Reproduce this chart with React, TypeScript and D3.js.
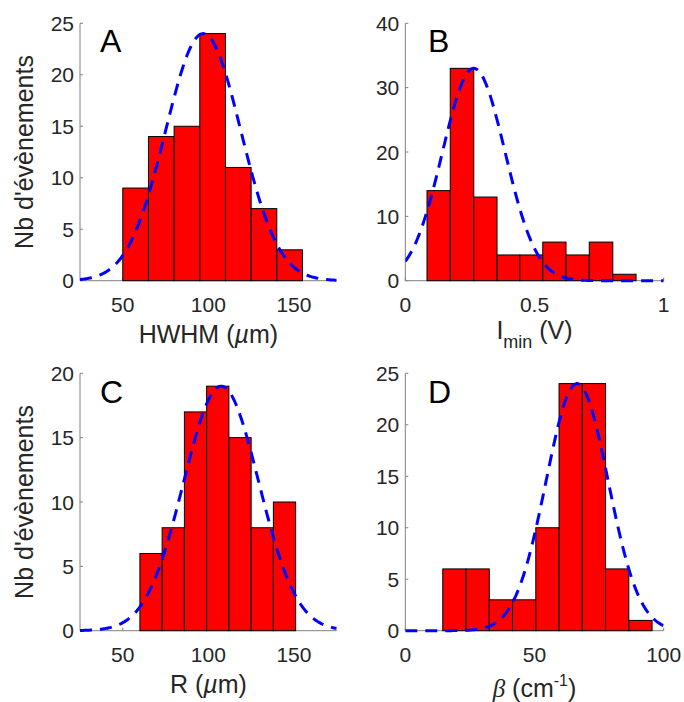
import React from 'react';
import * as d3 from 'd3';

// ---- data ----
const panelLetters = ['A', 'B', 'C', 'D'];

const binEdgesA = [50, 65, 80, 95, 110, 125, 140, 155, 170, 185];
const countsA = [9, 14, 15, 24, 11, 7, 3, 0, 0];

const binEdgesB = [0.084, 0.174, 0.265, 0.355, 0.443, 0.532, 0.622, 0.712, 0.803, 0.893];
const countsB = [14, 33, 13, 4, 4, 6, 4, 6, 1];

const binEdgesC = [60, 73, 86, 99, 112, 125, 138, 151];
const countsC = [6, 8, 17, 19, 15, 8, 10];

const binEdgesD = [14.5, 23.5, 32.5, 41.5, 50.5, 59.5, 68.5, 77.5, 86.5, 95.5];
const countsD = [6, 6, 3, 3, 10, 24, 24, 6, 1];

// Gaussian fit parameters (dashed curves)
const fitMeans = [97, 0.265, 107.5, 66.5];
const fitSigmas = [22, 0.121, 22, 12];
const fitPeaks = [24, 33, 19, 24];

const xDomains: [number, number][] = [[25, 175], [0, 1], [25, 175], [0, 100]];
const yDomains: [number, number][] = [[0, 25], [0, 40], [0, 20], [0, 25]];
const xTicksA = [50, 100, 150];
const xTicksB = [0, 0.5, 1];
const xTicksC = [50, 100, 150];
const xTicksD = [0, 50, 100];
const yTicksA = [0, 5, 10, 15, 20, 25];
const yTicksB = [0, 10, 20, 30, 40];
const yTicksC = [0, 5, 10, 15, 20];
const yTicksD = [0, 5, 10, 15, 20, 25];

const yLabel = "Nb d'évènements";

// ---- layout ----
const boxes = [
  { x0: 80, x1: 336.7, y0: 23.3, y1: 280.7 },
  { x0: 405.3, x1: 663.7, y0: 23.3, y1: 280.7 },
  { x0: 80, x1: 336.7, y0: 373.3, y1: 630.7 },
  { x0: 405.3, x1: 663.7, y0: 373.3, y1: 630.7 },
];
const xLabelBaselines = [343, 339, 693, 697];

const FONT = "'Liberation Sans', Arial, Helvetica, sans-serif";
const TXT = '#262626';
const AXC = '#808080';

const edgesAll = [binEdgesA, binEdgesB, binEdgesC, binEdgesD];
const countsAll = [countsA, countsB, countsC, countsD];
const xTicksAll = [xTicksA, xTicksB, xTicksC, xTicksD];
const yTicksAll = [yTicksA, yTicksB, yTicksC, yTicksD];

function XLabel({ i, x, y }: { i: number; x: number; y: number }) {
  const common = { x, y, textAnchor: 'middle' as const, fontFamily: FONT, fontSize: 25, fill: TXT };
  if (i === 0)
    return (
      <text {...common}>
        HWHM (<tspan fontStyle="italic">µ</tspan>m)
      </text>
    );
  if (i === 1)
    return (
      <text {...common}>
        I<tspan fontSize={18} dy={9}>min</tspan>
        <tspan dy={-9}> (V)</tspan>
      </text>
    );
  if (i === 2)
    return (
      <text {...common}>
        R (<tspan fontStyle="italic">µ</tspan>m)
      </text>
    );
  return (
    <text {...common}>
      <tspan fontStyle="italic" fontFamily="'Liberation Serif', 'DejaVu Serif', serif">β</tspan> (cm
      <tspan fontSize={16} dy={-11}>-1</tspan>
      <tspan dy={11}>)</tspan>
    </text>
  );
}

function Panel({ i }: { i: number }) {
  const b = boxes[i];
  const x = d3.scaleLinear().domain(xDomains[i]).range([b.x0, b.x1]);
  const y = d3.scaleLinear().domain(yDomains[i]).range([b.y1, b.y0]);
  const edges = edgesAll[i];
  const counts = countsAll[i];
  const [dx0, dx1] = xDomains[i];
  const curvePts = d3.range(0, 301).map((k) => dx0 + ((dx1 - dx0) * k) / 300);
  const gauss = (v: number) =>
    fitPeaks[i] * Math.exp(-((v - fitMeans[i]) ** 2) / (2 * fitSigmas[i] ** 2));
  const line = d3
    .line<number>()
    .x((v) => x(v))
    .y((v) => y(gauss(v)));
  const clipId = `clip${i}`;
  const fmt = (v: number) => String(v);
  return (
    <g>
      <defs>
        <clipPath id={clipId}>
          <rect x={b.x0} y={b.y0 - 5} width={b.x1 - b.x0} height={b.y1 - b.y0 + 10} />
        </clipPath>
      </defs>
      {/* axes */}
      <line x1={b.x0} x2={b.x1} y1={b.y1} y2={b.y1} stroke={AXC} strokeWidth={1} />
      <line x1={b.x0} x2={b.x0} y1={b.y0} y2={b.y1} stroke={AXC} strokeWidth={1} />
      {yTicksAll[i].map((t) => (
        <g key={'y' + t}>
          <line x1={b.x0} x2={b.x0 + 3} y1={y(t)} y2={y(t)} stroke={AXC} />
          <text
            x={b.x0 - 6}
            y={y(t)}
            dy="0.36em"
            textAnchor="end"
            fontFamily={FONT}
            fontSize={21}
            fill={TXT}
          >
            {fmt(t)}
          </text>
        </g>
      ))}
      {xTicksAll[i].map((t) => (
        <g key={'x' + t}>
          <line x1={x(t)} x2={x(t)} y1={b.y1} y2={b.y1 - 3} stroke={AXC} />
          <text
            x={x(t)}
            y={b.y1 + 31}
            textAnchor="middle"
            fontFamily={FONT}
            fontSize={21}
            fill={TXT}
          >
            {fmt(t)}
          </text>
        </g>
      ))}
      {/* bars */}
      <g clipPath={`url(#${clipId})`}>
        {counts.map((c, k) => (
          <rect
            key={k}
            x={x(edges[k])}
            y={y(c)}
            width={x(edges[k + 1]) - x(edges[k])}
            height={y(0) - y(c)}
            fill="#ff0000"
            stroke="#000"
            strokeWidth={1}
          />
        ))}
        <path
          d={line(curvePts) || ''}
          fill="none"
          stroke="#0000ff"
          strokeWidth={3}
          strokeDasharray="12,8"
        />
      </g>
      {/* panel letter */}
      <text
        x={b.x0 + (i % 2 === 0 ? 20 : 22.7)}
        y={b.y0 + (i < 2 ? 28.4 : 30)}
        fontFamily={FONT}
        fontSize={32}
        fill="#000"
      >
        {panelLetters[i]}
      </text>
      <XLabel i={i} x={(b.x0 + b.x1) / 2} y={xLabelBaselines[i]} />
      {i % 2 === 0 && (
        <text
          transform={`translate(33,${(b.y0 + b.y1) / 2}) rotate(-90)`}
          textAnchor="middle"
          fontFamily={FONT}
          fontSize={25}
          fill={TXT}
        >
          {yLabel}
        </text>
      )}
    </g>
  );
}

export default function App() {
  return (
    <svg
      width={684}
      height={702}
      style={{ position: 'absolute', left: 0, top: 0, background: '#fff' }}
    >
      <rect width={684} height={702} fill="#fff" />
      {[0, 1, 2, 3].map((i) => (
        <Panel key={i} i={i} />
      ))}
    </svg>
  );
}
